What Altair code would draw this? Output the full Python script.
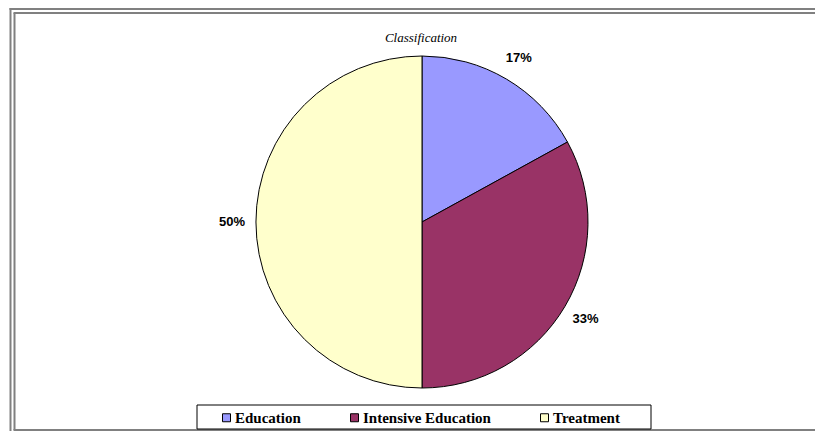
import altair as alt
import pandas as pd

categories = ["Education", "Intensive Education", "Treatment"]
shares = [17, 33, 50]
colors = ["#9999FF", "#993366", "#FFFFCC"]

df = pd.DataFrame({"category": categories, "share": shares, "idx": [0, 1, 2]})
df["label"] = df["share"].astype(str) + "%"

W, H = 807, 423
CX, CY = 414, 214

base = alt.Chart(df).encode(
    theta=alt.Theta("share:Q", stack=True),
    order=alt.Order("idx:Q"),
)

pie = base.mark_arc(stroke="black", strokeWidth=1, radius=166).encode(
    color=alt.Color(
        "category:N",
        scale=alt.Scale(domain=categories, range=colors),
        sort=categories,
        legend=alt.Legend(
            orient="none",
            legendX=211,
            legendY=402,
            direction="horizontal",
            title=None,
            padding=0,
            columnPadding=46,
            symbolType="square",
            symbolSize=64,
            symbolStrokeColor="black",
            symbolStrokeWidth=1,
            symbolOpacity=1,
            labelFont="Liberation Serif",
            labelFontWeight="bold",
            labelFontSize=15,
            labelColor="black",
            labelOffset=1,
        ),
    ),
    x=alt.value(CX),
    y=alt.value(CY),
)

labels = base.mark_text(
    radius=190, font="Liberation Sans", fontWeight="bold", fontSize=13, color="black"
).encode(text="label:N", x=alt.value(CX), y=alt.value(CY))

frame_df = pd.DataFrame({"k": [0]})


def rule(x1, x2, y1, y2):
    return alt.Chart(frame_df).mark_rule(color="#808080", strokeWidth=2).encode(
        x=alt.value(x1), x2=alt.value(x2), y=alt.value(y1), y2=alt.value(y2)
    )


frame = [
    rule(2.5, 2.5, 0, H),          # outer left
    rule(1.5, W, 1, 1),            # outer top
    rule(6.5, 6.5, 5, H - 1),      # inner left
    rule(5.5, W, 5, 5),            # inner top
    rule(5.5, W, H - 1, H - 1),    # inner bottom
]

legend_box = alt.Chart(frame_df).mark_rect(fill="white", stroke="black", strokeWidth=1).encode(
    x=alt.value(189), x2=alt.value(643), y=alt.value(397), y2=alt.value(421)
)

title = alt.Chart(frame_df).mark_text(
    font="Liberation Serif", fontStyle="italic", fontSize=13, color="black"
).encode(x=alt.value(413), y=alt.value(30), text=alt.value("Classification"))

chart = alt.layer(*frame, legend_box, title, pie, labels).properties(
    width=W,
    height=H,
    padding=0,
    autosize=alt.AutoSizeParams(type="none"),
    background="white",
).configure_view(stroke="transparent", strokeWidth=0)

chart.save("out.html", embed_options={"renderer": "svg", "actions": False})
